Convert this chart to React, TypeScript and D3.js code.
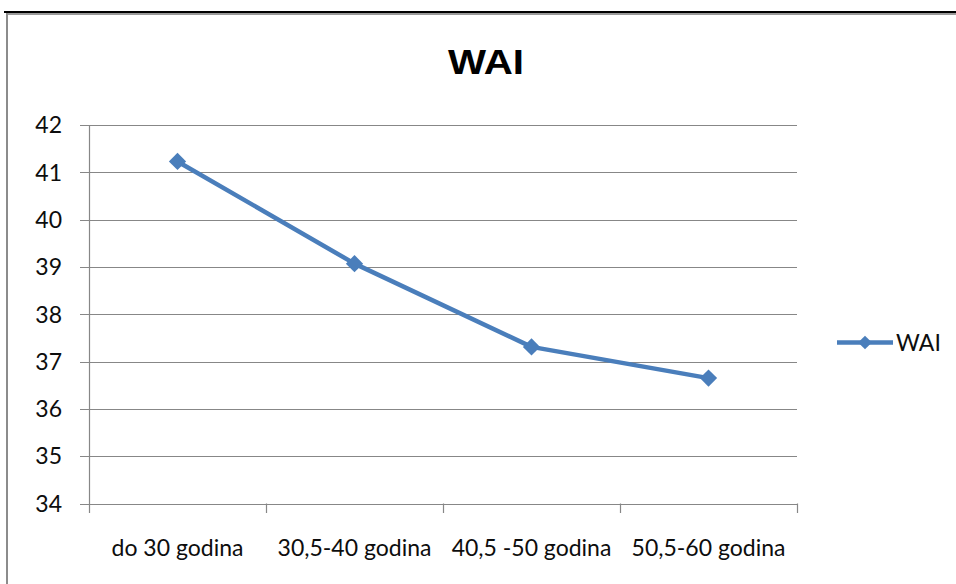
import React, { useEffect, useRef } from 'react';
import * as d3 from 'd3';

const categories = ['do 30 godina', '30,5-40 godina', '40,5 -50 godina', '50,5-60 godina'];
const waiValues = [41.23, 39.07, 37.31, 36.65];
const yTicks = [34, 35, 36, 37, 38, 39, 40, 41, 42];
const seriesName = 'WAI';

const W = 956;
const H = 584;

const App: React.FC = () => {
  const svgRef = useRef<SVGSVGElement>(null);

  useEffect(() => {
    document.body.style.margin = '0';
    if (!svgRef.current) return;
    const svg = d3.select(svgRef.current);
    svg.selectAll('*').remove();

    const font = "Lato, 'Open Sans', sans-serif";
    const gridColor = '#878787';
    const blue = '#4a7ebb';
    const textColor = '#0d0d0d';

    // outer frame (top + left edge visible)
    svg.append('rect').attr('x', 0).attr('y', 0).attr('width', W).attr('height', H).attr('fill', '#fff');
    svg.append('line').attr('x1', 4).attr('x2', W).attr('y1', 12).attr('y2', 12)
      .attr('stroke', '#000').attr('stroke-width', 2);
    svg.append('line').attr('x1', 7).attr('x2', W).attr('y1', 14).attr('y2', 14)
      .attr('stroke', '#9a9a9a').attr('stroke-width', 2);
    svg.append('line').attr('x1', 7).attr('x2', 7).attr('y1', 13).attr('y2', H)
      .attr('stroke', '#8c8c8c').attr('stroke-width', 2);

    // title
    svg.append('text')
      .attr('transform', 'translate(486,74) scale(1.12,1)')
      .attr('text-anchor', 'middle')
      .style('font-family', "'Liberation Sans', Arial, sans-serif")
      .style('font-weight', 'bold')
      .style('font-size', '36px')
      .attr('fill', '#000')
      .text('WAI');

    const x = d3.scaleBand<string>().domain(categories).range([89, 797]);
    const y = d3.scaleLinear().domain([34, 42]).range([503.5, 125]);

    // gridlines + y labels
    const g = svg.append('g');
    g.selectAll('line.grid')
      .data(yTicks)
      .join('line')
      .attr('class', 'grid')
      .attr('x1', 80).attr('x2', 797)
      .attr('y1', d => Math.round(y(d)) + 0.5).attr('y2', d => Math.round(y(d)) + 0.5)
      .attr('stroke', gridColor).attr('stroke-width', 1.2);

    g.selectAll('text.ylab')
      .data(yTicks)
      .join('text')
      .attr('class', 'ylab')
      .attr('x', 62)
      .attr('y', d => y(d))
      .attr('dy', '0.36em')
      .attr('text-anchor', 'end')
      .style('font-family', font)
      .style('font-size', '23px')
      .attr('fill', textColor)
      .text(d => d);

    // y axis line
    g.append('line').attr('x1', 89.5).attr('x2', 89.5).attr('y1', y(42)).attr('y2', 513)
      .attr('stroke', gridColor).attr('stroke-width', 1.2);

    // x tick marks at band boundaries
    const bounds = categories.map(c => (x(c) as number)).concat([x.range()[1]]);
    g.selectAll('line.xtick')
      .data(bounds.slice(1))
      .join('line')
      .attr('class', 'xtick')
      .attr('x1', d => Math.round(d) + 0.5).attr('x2', d => Math.round(d) + 0.5)
      .attr('y1', 503.5).attr('y2', 513)
      .attr('stroke', gridColor).attr('stroke-width', 1.2);

    g.selectAll('text.xlab')
      .data(categories)
      .join('text')
      .attr('class', 'xlab')
      .attr('x', d => (x(d) as number) + x.bandwidth() / 2)
      .attr('y', 556)
      .attr('text-anchor', 'middle')
      .style('font-family', font)
      .style('font-size', '23px')
      .attr('fill', textColor)
      .text(d => d);

    // series line
    const pts = categories.map((c, i) => [(x(c) as number) + x.bandwidth() / 2, y(waiValues[i])] as [number, number]);
    svg.append('path')
      .attr('d', d3.line()(pts) as string)
      .attr('fill', 'none')
      .attr('stroke', blue)
      .attr('stroke-width', 4.5)
      .attr('stroke-linejoin', 'round');

    const diamond = d3.symbol().type(d3.symbolDiamond2).size(190);
    svg.selectAll('path.marker')
      .data(pts)
      .join('path')
      .attr('class', 'marker')
      .attr('transform', d => `translate(${d[0]},${d[1]})`)
      .attr('d', diamond() as string)
      .attr('fill', blue);

    // legend
    const ly = 342.5;
    svg.append('line').attr('x1', 837).attr('x2', 893).attr('y1', ly).attr('y2', ly)
      .attr('stroke', blue).attr('stroke-width', 4.5);
    svg.append('path')
      .attr('transform', `translate(865,${ly})`)
      .attr('d', d3.symbol().type(d3.symbolDiamond2).size(120)() as string)
      .attr('fill', blue);
    svg.append('text')
      .attr('x', 896).attr('y', ly).attr('dy', '0.36em')
      .style('font-family', font).style('font-size', '23px')
      .attr('fill', textColor)
      .text(seriesName);
  }, []);

  return (
    <div style={{ position: 'absolute', left: 0, top: 0 }}>
      <svg ref={svgRef} width={W} height={H} style={{ display: 'block' }} />
    </div>
  );
};

export default App;
